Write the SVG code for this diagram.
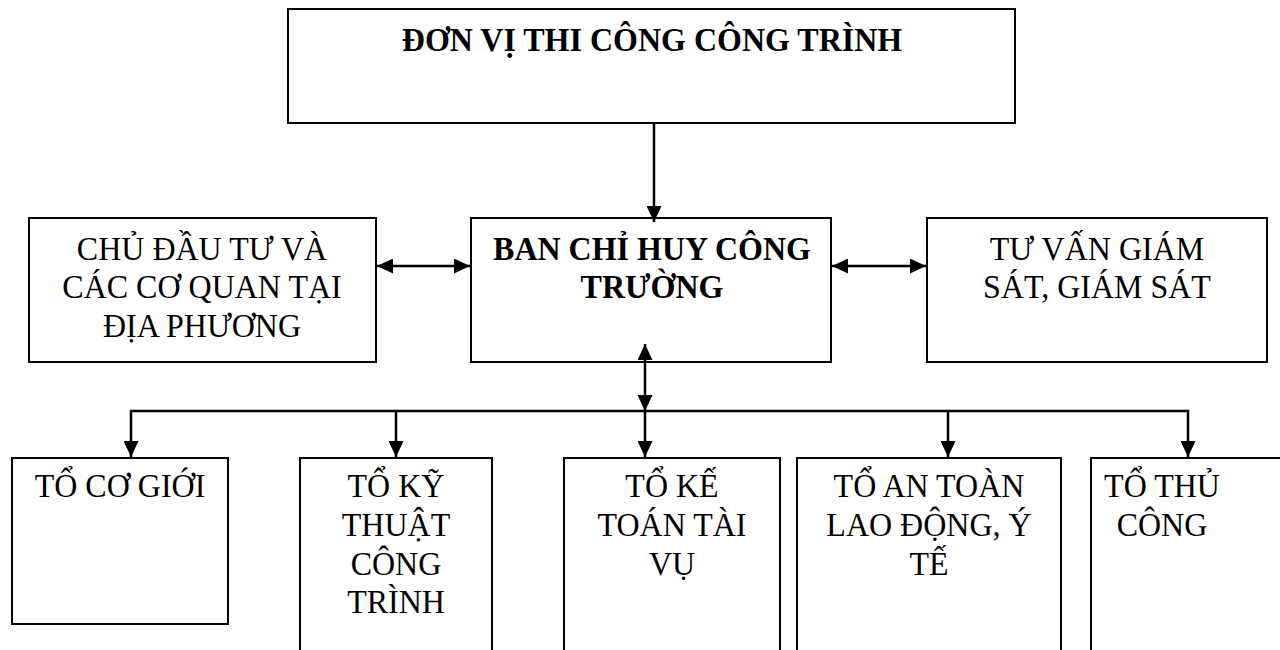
<svg xmlns="http://www.w3.org/2000/svg" width="1280" height="650" viewBox="0 0 1280 650">
<defs>
<style>
.box{fill:#fff;stroke:#000;stroke-width:2}
.t{font-family:"Liberation Serif","Times New Roman",serif;font-size:32px;fill:#000;text-anchor:middle}
.b{font-weight:bold}
.c{fill:none;stroke:#000;stroke-width:2.5}
</style>
<marker id="ah" markerUnits="userSpaceOnUse" viewBox="0 0 16 15" markerWidth="16" markerHeight="15" refX="16" refY="7.5" orient="auto-start-reverse">
<path d="M0,0 L16,7.5 L0,15 z" fill="#000"/>
</marker>
</defs>
<rect width="1280" height="650" fill="#fff"/>
<g id="n-top">
<rect class="box" x="288" y="9" width="727" height="114"/>
<text class="t b" transform="translate(652,51) scale(1,1.08)">ĐƠN VỊ THI CÔNG CÔNG TRÌNH</text>
</g>
<g id="n-left">
<rect class="box" x="29" y="218" width="347" height="144"/>
<text class="t" transform="translate(202,260) scale(1,1.08)">CHỦ ĐẦU TƯ VÀ</text>
<text class="t" transform="translate(202,298) scale(1,1.08)">CÁC CƠ QUAN TẠI</text>
<text class="t" transform="translate(202,337) scale(1,1.08)">ĐỊA PHƯƠNG</text>
</g>
<g id="n-mid">
<rect class="box" x="471" y="218" width="360" height="144"/>
<text class="t b" transform="translate(652,260) scale(1,1.08)">BAN CHỈ HUY CÔNG</text>
<text class="t b" transform="translate(652,298) scale(1,1.08)">TRƯỜNG</text>
</g>
<g id="n-right">
<rect class="box" x="927" y="218" width="340" height="144"/>
<text class="t" transform="translate(1097,260) scale(1,1.08)">TƯ VẤN GIÁM</text>
<text class="t" transform="translate(1097,298) scale(1,1.08)">SÁT, GIÁM SÁT</text>
</g>
<g id="n-b1">
<rect class="box" x="12" y="458" width="216" height="166"/>
<text class="t" transform="translate(120,497) scale(1,1.08)">TỔ CƠ GIỚI</text>
</g>
<g id="n-b2">
<rect class="box" x="300" y="458" width="192" height="200"/>
<text class="t" transform="translate(396,497) scale(1,1.08)">TỔ KỸ</text>
<text class="t" transform="translate(396,536) scale(1,1.08)">THUẬT</text>
<text class="t" transform="translate(396,575) scale(1,1.08)">CÔNG</text>
<text class="t" transform="translate(396,613) scale(1,1.08)">TRÌNH</text>
</g>
<g id="n-b3">
<rect class="box" x="564" y="458" width="216" height="200"/>
<text class="t" transform="translate(672,497) scale(1,1.08)">TỔ KẾ</text>
<text class="t" transform="translate(672,536) scale(1,1.08)">TOÁN TÀI</text>
<text class="t" transform="translate(672,575) scale(1,1.08)">VỤ</text>
</g>
<g id="n-b4">
<rect class="box" x="797" y="458" width="264" height="200"/>
<text class="t" transform="translate(929,497) scale(1,1.08)">TỔ AN TOÀN</text>
<text class="t" transform="translate(929,536) scale(1,1.08)">LAO ĐỘNG, Ý</text>
<text class="t" transform="translate(929,575) scale(1,1.08)">TẾ</text>
</g>
<g id="n-b5">
<rect class="box" x="1091" y="458" width="220" height="200"/>
<text class="t" transform="translate(1162,497) scale(1,1.08)">TỔ THỦ</text>
<text class="t" transform="translate(1162,536) scale(1,1.08)">CÔNG</text>
</g>
<g id="connectors">
<line class="c" x1="654" y1="123" x2="654" y2="222" marker-end="url(#ah)"/>
<line class="c" x1="377" y1="266" x2="470" y2="266" marker-start="url(#ah)" marker-end="url(#ah)"/>
<line class="c" x1="832" y1="266" x2="926" y2="266" marker-start="url(#ah)" marker-end="url(#ah)"/>
<line class="c" x1="645" y1="344" x2="645" y2="411" marker-start="url(#ah)" marker-end="url(#ah)"/>
<path class="c" d="M131,457 V411 H1188 V457" marker-start="url(#ah)" marker-end="url(#ah)"/>
<line class="c" x1="396" y1="411" x2="396" y2="457" marker-end="url(#ah)"/>
<line class="c" x1="645" y1="411" x2="645" y2="457" marker-end="url(#ah)"/>
<line class="c" x1="948" y1="411" x2="948" y2="457" marker-end="url(#ah)"/>
</g>
</svg>
